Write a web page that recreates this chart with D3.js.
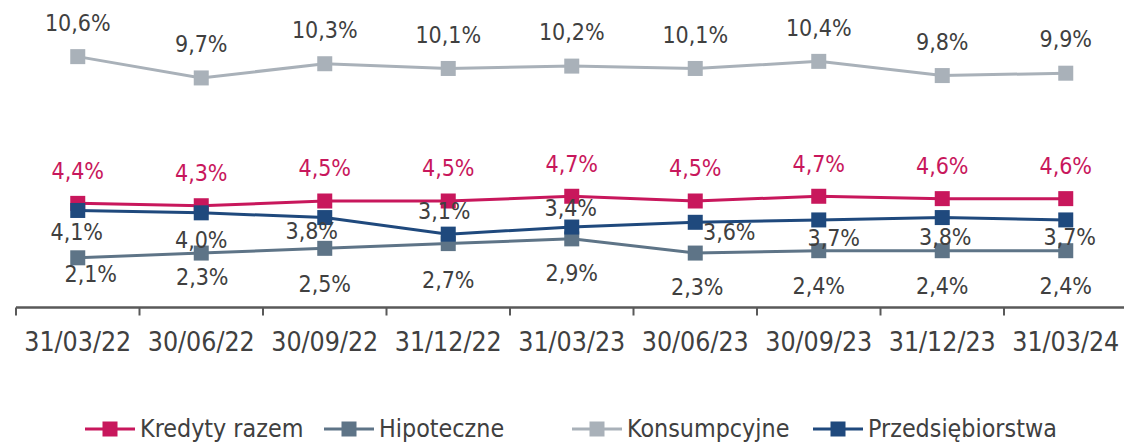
<!DOCTYPE html>
<html>
<head>
<meta charset="utf-8">
<script src="https://cdn.jsdelivr.net/npm/d3@7"></script>
<style>
  body { margin: 0; background: #fff; }
  text { font-family: "DejaVu Sans Condensed", "DejaVu Sans", sans-serif; font-stretch: condensed; }
</style>
</head>
<body>
<div id="chart"></div>
<script>
// data
const categories = ["31/03/22", "30/06/22", "30/09/22", "31/12/22", "31/03/23", "30/06/23", "30/09/23", "31/12/23", "31/03/24"];
const kredytyRazem = [4.4, 4.3, 4.5, 4.5, 4.7, 4.5, 4.7, 4.6, 4.6];
const hipoteczne = [2.1, 2.3, 2.5, 2.7, 2.9, 2.3, 2.4, 2.4, 2.4];
const konsumpcyjne = [10.6, 9.7, 10.3, 10.1, 10.2, 10.1, 10.4, 9.8, 9.9];
const przedsiebiorstwa = [4.1, 4.0, 3.8, 3.1, 3.4, 3.6, 3.7, 3.8, 3.7];
const seriesNames = ["Kredyty razem", "Hipoteczne", "Konsumpcyjne", "Przedsiębiorstwa"];

// layout
const width = 1124, height = 442;
const textColor = "#404040";
const colors = ["#C8175C", "#5E7487", "#A9B1B9", "#1F497D"];

// label offsets (dx, dy from the point) - hand tweaked like in the original
const labelOffsets = [
  categories.map(() => [0, -33]),
  [[13, 16], [1, 24], [0, 35], [0, 36], [0, 34], [2, 34], [0, 35], [0, 35], [0, 35]],
  categories.map(() => [0, -34]),
  [[-1, 21], [0, 27], [-13, 13], [-4, -23], [-1, -19], [34, 9], [15, 18], [3, 19], [4, 17]]
];

const svg = d3.select("#chart").append("svg")
  .attr("width", width)
  .attr("height", height);

const x = d3.scaleBand().domain(categories).range([16, 1127.5]);
const y = d3.scaleLinear().domain([0, 12]).range([307.5, 23.5]);

const series = [kredytyRazem, hipoteczne, konsumpcyjne, przedsiebiorstwa].map(function (vals, i) {
  return { name: seriesNames[i], color: colors[i], values: vals, offsets: labelOffsets[i] };
});

//----------------------------AXIS------------------------------//
const xaxis = d3.axisBottom(x).tickSize(0).tickPadding(0);
const gx = svg.append("g")
  .attr("transform", "translate(0," + y(0) + ")")
  .call(xaxis);
gx.select(".domain")
  .attr("d", "M" + x.range()[0] + ",0H" + x.range()[1])
  .attr("stroke", "#595959")
  .attr("stroke-width", 2.5);
gx.selectAll(".tick text")
  .attr("y", 43)
  .attr("dy", 0)
  .style("font-size", "26.5px")
  .attr("fill", textColor);

// ticks between categories
gx.selectAll(".cat-tick")
  .data(categories)
  .enter()
  .append("line")
  .attr("x1", d => x(d))
  .attr("x2", d => x(d))
  .attr("y1", 0)
  .attr("y2", 8)
  .attr("stroke", "#595959")
  .attr("stroke-width", 2);

//----------------------------LINES------------------------------//
const cx = (d, i) => x(categories[i]) + x.bandwidth() / 2;
const line = d3.line()
  .x((d, i) => cx(d, i))
  .y(d => y(d));

series.forEach(function (s) {
  const g = svg.append("g");
  g.append("path")
    .attr("d", line(s.values))
    .attr("fill", "none")
    .attr("stroke", s.color)
    .attr("stroke-width", 3);
  g.selectAll("rect")
    .data(s.values)
    .enter()
    .append("rect")
    .attr("x", (d, i) => cx(d, i) - 7.5)
    .attr("y", d => y(d) - 7.5)
    .attr("width", 15)
    .attr("height", 15)
    .attr("fill", s.color);
});

//----------------------------LABELS------------------------------//
series.forEach(function (s, k) {
  svg.append("g")
    .selectAll("text")
    .data(s.values)
    .enter()
    .append("text")
    .attr("x", (d, i) => cx(d, i) + s.offsets[i][0])
    .attr("y", (d, i) => y(d) + s.offsets[i][1])
    .attr("dy", "0.36em")
    .attr("text-anchor", "middle")
    .style("font-size", "23px")
    .attr("fill", k === 0 ? s.color : textColor)
    .text(d => d3.format(".1f")(d).replace(".", ",") + "%");
});

//----------------------------LEGEND------------------------------//
const legendX = [85, 324, 572, 813];
const legend = svg.append("g")
  .selectAll("g")
  .data(series)
  .enter()
  .append("g")
  .attr("transform", (d, i) => "translate(" + legendX[i] + ",429)");

legend.append("line")
  .attr("x1", 0)
  .attr("x2", 50)
  .attr("stroke", d => d.color)
  .attr("stroke-width", 3);
legend.append("rect")
  .attr("x", 17.5)
  .attr("y", -7.5)
  .attr("width", 15)
  .attr("height", 15)
  .attr("fill", d => d.color);
legend.append("text")
  .attr("x", 55)
  .attr("y", 8)
  .style("font-size", "24.8px")
  .attr("fill", textColor)
  .text(d => d.name);
</script>
</body>
</html>
